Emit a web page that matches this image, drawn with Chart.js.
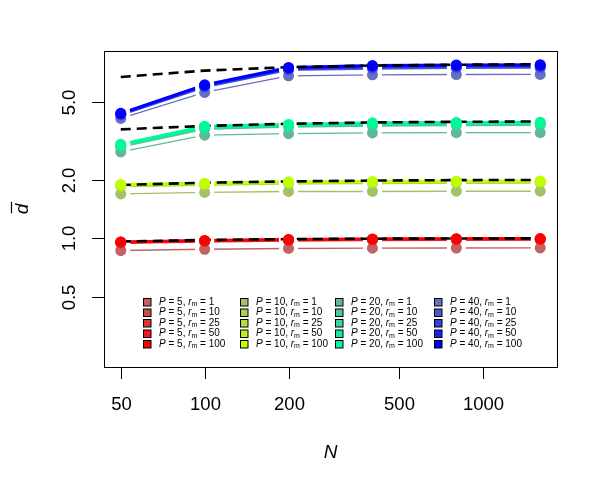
<!DOCTYPE html>
<html>
<head>
<meta charset="utf-8">
<script src="https://cdn.jsdelivr.net/npm/chart.js@4.4.1/dist/chart.umd.min.js"></script>
<style>
  html, body { margin: 0; padding: 0; background: #fff; }
  canvas { display: block; }
</style>
</head>
<body>
<canvas id="chart" width="608" height="487"></canvas>
<script>
const sampleSizes = [50, 100, 200, 400, 800, 1600];
const rmValues = [1, 10, 25, 50, 100];
const pValues = [5, 10, 20, 40];

// mean d per P, one row per r_m (1, 10, 25, 50, 100)
const dbarP5 = [
  [0.865, 0.878, 0.886, 0.889, 0.891, 0.892],
  [0.945, 0.960, 0.972, 0.978, 0.981, 0.982],
  [0.952, 0.968, 0.979, 0.985, 0.988, 0.989],
  [0.956, 0.972, 0.983, 0.989, 0.992, 0.993],
  [0.958, 0.975, 0.986, 0.992, 0.995, 0.996]
];
const dbarP10 = [
  [1.69, 1.72, 1.74, 1.74, 1.745, 1.745],
  [1.85, 1.88, 1.91, 1.92, 1.925, 1.93],
  [1.87, 1.90, 1.93, 1.94, 1.945, 1.95],
  [1.88, 1.91, 1.94, 1.95, 1.955, 1.96],
  [1.89, 1.92, 1.95, 1.96, 1.965, 1.97]
];
const dbarP20 = [
  [2.78, 3.39, 3.45, 3.48, 3.49, 3.49],
  [2.95, 3.65, 3.74, 3.79, 3.81, 3.82],
  [2.99, 3.70, 3.79, 3.85, 3.87, 3.88],
  [3.02, 3.74, 3.82, 3.89, 3.91, 3.92],
  [3.04, 3.77, 3.85, 3.92, 3.94, 3.95]
];
const dbarP40 = [
  [4.13, 5.62, 6.84, 6.92, 6.95, 6.96],
  [4.30, 5.98, 7.32, 7.45, 7.50, 7.52],
  [4.34, 6.05, 7.42, 7.58, 7.63, 7.65],
  [4.37, 6.11, 7.50, 7.67, 7.72, 7.75],
  [4.39, 6.15, 7.55, 7.73, 7.78, 7.80]
];

// dashed reference curves
const theoryP5 = [0.962, 0.980, 0.990, 0.995, 0.997, 0.999];
const theoryP10 = [1.88, 1.93, 1.96, 1.98, 1.99, 1.995];
const theoryP20 = [3.63, 3.78, 3.88, 3.94, 3.97, 3.985];
const theoryP40 = [6.75, 7.28, 7.58, 7.73, 7.80, 7.85];

const xTicks = [50, 100, 200, 500, 1000];
const yTicks = [0.5, 1, 2, 5];
const yTickLabels = ['0.5', '1.0', '2.0', '5.0'];

const redShades = ['#C26262', '#CC4C4C', '#DD3333', '#EE1A1A', '#FF0000'];
const limeShades = ['#A2C265', '#A9D24C', '#B0E233', '#B8F21A', '#BFFF00'];
const greenShades = ['#62B895', '#4CC89A', '#33D89A', '#1AE99A', '#00FA9A'];
const blueShades = ['#6570C2', '#4C58D0', '#3340DD', '#1A20EE', '#0000FF'];

const groups = [
  { p: 5, rows: dbarP5, theory: theoryP5, colors: redShades },
  { p: 10, rows: dbarP10, theory: theoryP10, colors: limeShades },
  { p: 20, rows: dbarP20, theory: theoryP20, colors: greenShades },
  { p: 40, rows: dbarP40, theory: theoryP40, colors: blueShades }
];

const lineWidths = [1.3, 2, 2.4, 2.7, 3];
const toXY = vals => sampleSizes.map((n, i) => ({ x: n, y: vals[i] }));

const pointSets = [], haloSets = [], lineSets = [], dashSets = [];
groups.forEach(g => {
  // r_m = 100 first so it sits on top
  for (let k = g.rows.length - 1; k >= 0; k--) {
    const vals = g.rows[k];
    pointSets.push({ data: toXY(vals), showLine: false, pointRadius: 5.5,
      pointBackgroundColor: g.colors[k], pointBorderWidth: 0, order: 1 });
    haloSets.push({ data: toXY(vals), showLine: false, pointRadius: 9.5,
      pointBackgroundColor: '#fff', pointBorderWidth: 0, order: 3 });
    lineSets.push({ data: toXY(vals), borderColor: g.colors[k], borderWidth: lineWidths[k],
      pointRadius: 0, order: 4 });
  }
  dashSets.push({ data: toXY(g.theory), borderColor: '#000', borderWidth: 2.6,
    borderDash: [10, 6], pointRadius: 0, order: 2 });
});

const FONT = '"Liberation Sans", Arial, Helvetica, sans-serif';

function drawLegend(ctx) {
  const colX = [147, 244, 339, 438];
  const rowY = [302, 312.5, 323, 333.5, 344];
  ctx.textBaseline = 'middle';
  ctx.textAlign = 'left';
  groups.forEach((g, c) => {
    rmValues.forEach((rm, r) => {
      const cx = colX[c], cy = rowY[r];
      ctx.fillStyle = g.colors[r];
      ctx.fillRect(cx - 3.5, cy - 3.5, 7.5, 7.5);
      ctx.strokeStyle = '#000';
      ctx.lineWidth = 1;
      ctx.strokeRect(cx - 3.5, cy - 3.5, 7.5, 7.5);
      let tx = cx + 12;
      const parts = [
        ['P', 'italic 10px', 0],
        [' = ' + g.p + ', ', '10px', 0],
        ['r', 'italic 10px', 0],
        ['m', '7px', 2.5],
        [' = ' + rm, '10px', 0]
      ];
      ctx.fillStyle = '#000';
      parts.forEach(([s, f, dy]) => {
        ctx.font = f + ' ' + FONT;
        ctx.fillText(s, tx, cy + dy);
        tx += ctx.measureText(s).width;
      });
    });
  });
}

const rAxes = {
  id: 'rAxes',
  afterDraw(chart) {
    const { ctx, chartArea: a, scales: { x, y } } = chart;
    ctx.save();
    ctx.strokeStyle = '#000';
    ctx.lineWidth = 1;
    ctx.strokeRect(Math.round(a.left) + 0.5, Math.round(a.top) + 0.5,
      Math.round(a.right - a.left), Math.round(a.bottom - a.top));

    ctx.fillStyle = '#000';
    ctx.font = '18.5px ' + FONT;
    ctx.textAlign = 'center';
    ctx.textBaseline = 'middle';
    xTicks.forEach(v => {
      const px = Math.round(x.getPixelForValue(v)) + 0.5;
      ctx.beginPath();
      ctx.moveTo(px, a.bottom);
      ctx.lineTo(px, a.bottom + 12);
      ctx.stroke();
      ctx.fillText(String(v), px, a.bottom + 38);
    });
    yTicks.forEach((v, i) => {
      const py = Math.round(y.getPixelForValue(v)) + 0.5;
      ctx.beginPath();
      ctx.moveTo(a.left - 12, py);
      ctx.lineTo(a.left, py);
      ctx.stroke();
      ctx.save();
      ctx.translate(a.left - 34, py);
      ctx.rotate(-Math.PI / 2);
      ctx.fillText(yTickLabels[i], 0, 0);
      ctx.restore();
    });

    // axis titles
    ctx.font = 'italic 19px ' + FONT;
    ctx.fillText('N', (a.left + a.right) / 2, 453);
    ctx.save();
    ctx.translate(23, (a.top + a.bottom) / 2);
    ctx.rotate(-Math.PI / 2);
    ctx.fillText('d', 0, 0);
    const w = ctx.measureText('d').width;
    ctx.lineWidth = 1.2;
    ctx.beginPath();
    ctx.moveTo(-w / 2 + 1, -11.5);
    ctx.lineTo(w / 2 + 2, -11.5);
    ctx.stroke();
    ctx.restore();

    drawLegend(ctx);
    ctx.restore();
  }
};

new Chart(document.getElementById('chart'), {
  type: 'line',
  data: { datasets: [...pointSets, ...dashSets, ...haloSets, ...lineSets] },
  options: {
    responsive: false,
    animation: false,
    devicePixelRatio: 1,
    events: [],
    layout: { padding: { left: 104, top: 51, right: 51, bottom: 120 } },
    elements: { line: { tension: 0 } },
    scales: {
      x: { type: 'logarithmic', min: 43.53, max: 1838, display: false },
      y: { type: 'logarithmic', min: 0.2178, max: 9.18, display: false }
    },
    plugins: { legend: { display: false }, tooltip: { enabled: false } }
  },
  plugins: [rAxes]
});
</script>
</body>
</html>
